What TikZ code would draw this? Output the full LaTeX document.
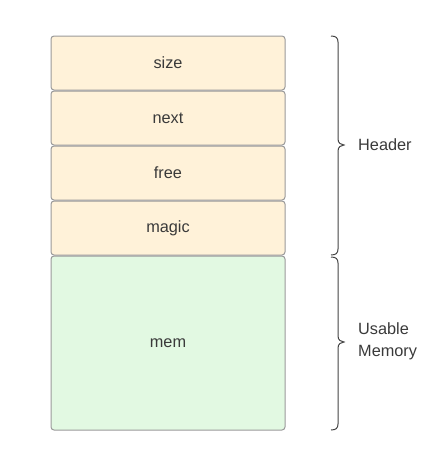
\documentclass[tikz,border=0pt]{standalone}
\usepackage{fontspec}
\setmainfont{Liberation Sans}
\definecolor{hdrfill}{HTML}{FFF2D9}
\definecolor{memfill}{HTML}{E2F9E2}
\definecolor{bordergray}{HTML}{9A9A9A}
\definecolor{textgray}{HTML}{3A3A3A}
\definecolor{bracegray}{HTML}{444444}
\begin{document}
\begin{tikzpicture}[x=1pt,y=-1pt,
  box/.style={draw=bordergray, line width=1pt, rounded corners=3pt, minimum width=234pt, inner sep=0pt, font=\fontsize{16.3}{18}\selectfont, text=textgray},
  hbox/.style={box, fill=hdrfill, minimum height=54pt},
  lbl/.style={font=\fontsize{16.3}{22}\selectfont, text=textgray, anchor=west, align=left, inner sep=0pt},
  bracestyle/.style={draw=bracegray, line width=1pt}]
\useasboundingbox (0,0) rectangle (443,469);
\node[hbox] (size) at (168,63) {size};
\node[hbox] (next) at (168,118) {next};
\node[hbox] (free) at (168,173) {free};
\node[hbox] (magic) at (168,228) {magic};
\node[box, fill=memfill, minimum height=174pt] (mem) at (168,343) {mem};
\draw[bracestyle] (331,36) .. controls (336,36) and (338,38) .. (338,42) -- (338,139)
  .. controls (338,143) and (341,145) .. (344,145)
  .. controls (341,145) and (338,147) .. (338,151) -- (338,249)
  .. controls (338,253) and (336,255) .. (331,255);
\draw[bracestyle] (331,257) .. controls (336,257) and (338,259) .. (338,263) -- (338,336)
  .. controls (338,340) and (341,342) .. (344,342)
  .. controls (341,342) and (338,344) .. (338,348) -- (338,424)
  .. controls (338,428) and (336,430) .. (331,430);
\node[lbl] (hdr) at (358,145) {Header};
\node[lbl] (um) at (358,341) {Usable\\Memory};
\end{tikzpicture}
\end{document}
